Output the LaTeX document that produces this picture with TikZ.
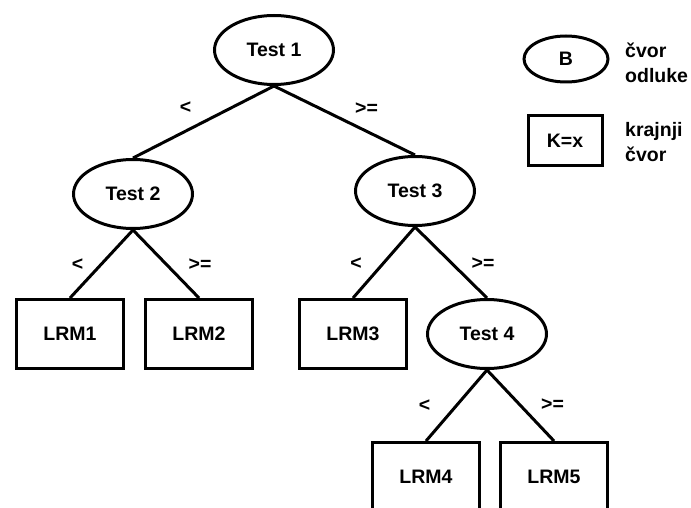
\documentclass[tikz,border=0pt]{standalone}
\usepackage{fontspec}
\setmainfont{Liberation Sans}
\usetikzlibrary{positioning,shapes.geometric}

\begin{document}
\begin{tikzpicture}[
  x=1pt, y=-1pt, on grid,
  every node/.style={font=\fontsize{19.5}{25}\selectfont\bfseries},
  decision/.style={draw,ellipse,line width=3pt,inner sep=0pt,minimum width=119pt,minimum height=69pt},
  box/.style={draw,rectangle,line width=3pt,inner sep=0pt,minimum width=107pt,minimum height=69pt},
  branch/.style={line width=3pt},
  cond/.style={inner sep=0pt,midway},
  legtext/.style={anchor=west,align=left,inner sep=0pt}
]
\useasboundingbox (0,0) rectangle (691,508);
\clip (0,0) rectangle (691,508);
\node[decision] (test1) at (274,50) {Test 1};
\node[decision, below left=144pt and 141pt of test1] (test2) {Test 2};
\node[decision, below right=141pt and 141pt of test1] (test3) {Test 3};
\node[box, below left=140pt and 63pt of test2] (lrm1) {LRM1};
\node[box, below right=140pt and 66pt of test2] (lrm2) {LRM2};
\node[box, below left=143pt and 62pt of test3] (lrm3) {LRM3};
\node[decision, below right=143pt and 72pt of test3] (test4) {Test 4};
\node[box, below left=143pt and 61pt of test4] (lrm4) {LRM4};
\node[box, below right=143pt and 67pt of test4] (lrm5) {LRM5};
% legenda
\node[decision, minimum width=84pt, minimum height=46pt] (legdec) at (566,59) {B};
\node[legtext] (legdectext) at (625,63) {čvor\\odluke};
\node[box, minimum width=74pt, minimum height=50pt] (legbox) at (565,141) {K=x};
\node[legtext] (legboxtext) at (625,142) {krajnji\\čvor};
\draw[branch] (test1.south) -- node[cond, xshift=-18pt, yshift=14pt] {<} (test2.north);
\draw[branch] (test1.south) -- node[cond, xshift=22pt, yshift=12pt] {>=} (test3.north);
\draw[branch] (test2.south) -- node[cond, xshift=-24pt, yshift=-1pt] {<} (lrm1.north);
\draw[branch] (test2.south) -- node[cond, xshift=34pt, yshift=-1pt] {>=} (lrm2.north);
\draw[branch] (test3.south) -- node[cond, xshift=-28pt, yshift=-1pt] {<} (lrm3.north);
\draw[branch] (test3.south) -- node[cond, xshift=32pt, yshift=-1pt] {>=} (test4.north);
\draw[branch] (test4.south) -- node[cond, xshift=-32pt] {<} (lrm4.north);
\draw[branch] (test4.south) -- node[cond, xshift=32pt, yshift=1pt] {>=} (lrm5.north);
\end{tikzpicture}
\end{document}
